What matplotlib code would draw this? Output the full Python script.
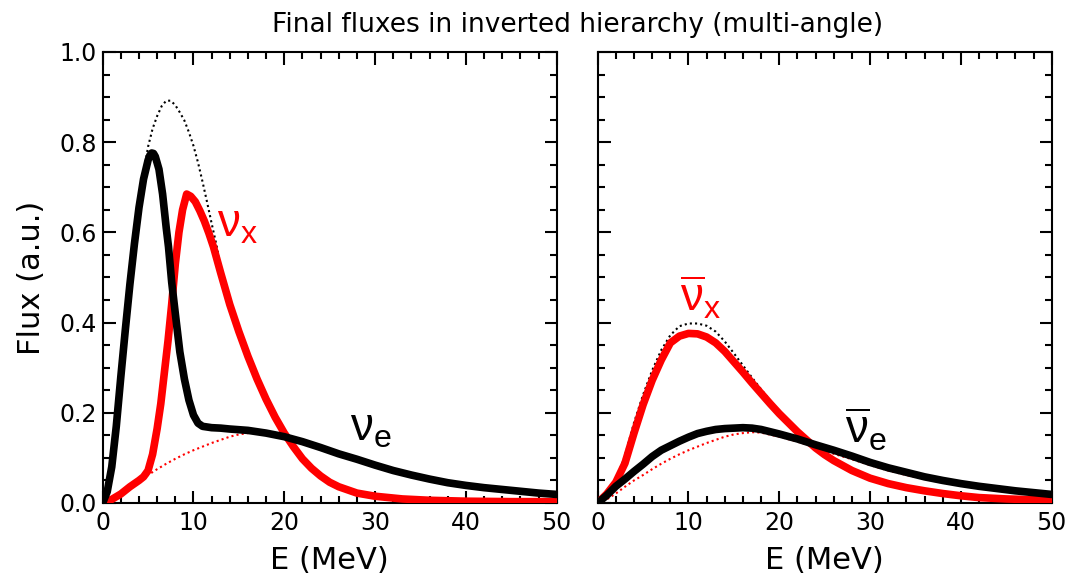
import numpy as np
import matplotlib
matplotlib.use('Agg')
import matplotlib.pyplot as plt
from matplotlib.ticker import MultipleLocator, FormatStrFormatter

# left panel: neutrinos (E in MeV, flux in a.u.)
e_nue = [0, 0.5, 1, 1.5, 2, 2.5, 3, 3.5, 4, 4.5, 5, 5.2, 5.4, 5.6, 5.8, 6.2, 6.6, 7, 7.25, 7.6,
         8, 8.5, 9, 9.5, 10, 10.5, 11, 12, 13, 14, 16, 18, 20, 22, 24, 26, 28, 30, 32, 34, 36,
         38, 40, 42, 44, 46, 48, 50]
f_nue = [0, 0.025, 0.08, 0.17, 0.28, 0.385, 0.485, 0.575, 0.655, 0.718, 0.76, 0.771, 0.776,
         0.775, 0.768, 0.74, 0.685, 0.61, 0.568, 0.49, 0.42, 0.335, 0.275, 0.228, 0.195, 0.177,
         0.17, 0.167, 0.166, 0.164, 0.161, 0.155, 0.147, 0.136, 0.123, 0.109, 0.097, 0.084,
         0.072, 0.062, 0.053, 0.045, 0.039, 0.034, 0.030, 0.026, 0.022, 0.019]

e_nux = [0, 1, 2, 3, 4, 4.5, 5, 5.5, 6, 6.4, 6.8, 7.2, 7.6, 8, 8.4, 8.8, 9.25, 9.7, 10.2, 10.7,
         11.2, 11.7, 12.2, 13, 14, 15, 16, 17, 18, 19, 20, 21, 22, 23, 24, 25, 26, 28, 30, 33,
         36, 40, 45, 50]
f_nux = [0, 0.008, 0.02, 0.036, 0.05, 0.058, 0.072, 0.108, 0.165, 0.22, 0.29, 0.36, 0.44, 0.53,
         0.60, 0.65, 0.685, 0.68, 0.668, 0.648, 0.625, 0.598, 0.568, 0.51, 0.44, 0.38, 0.325,
         0.275, 0.23, 0.19, 0.155, 0.125, 0.098, 0.077, 0.060, 0.046, 0.036, 0.022, 0.015, 0.009,
         0.006, 0.004, 0.003, 0.003]

# initial spectra (dotted)
e_nue0 = [0, 1, 2, 3, 4, 4.5, 5, 5.5, 6, 6.5, 7, 7.5, 8, 8.5, 9, 9.5, 10, 10.5, 11, 11.5, 12,
          12.5, 13, 14, 15, 16, 17, 18, 19, 20, 22, 24, 26, 28, 30, 35, 40, 50]
f_nue0 = [0, 0.08, 0.28, 0.485, 0.655, 0.73, 0.79, 0.83, 0.858, 0.88, 0.892, 0.892, 0.882, 0.866,
          0.848, 0.822, 0.792, 0.755, 0.712, 0.667, 0.62, 0.575, 0.525, 0.445, 0.385, 0.33, 0.28,
          0.235, 0.195, 0.16, 0.10, 0.062, 0.038, 0.024, 0.016, 0.007, 0.004, 0.002]

e_nux0 = [0, 1, 2, 3, 4, 5, 6, 7, 8, 9, 10, 11, 12, 13, 14, 15, 16, 17, 18, 20, 22, 24, 26, 28,
          30, 32, 34, 36, 38, 40, 42, 44, 46, 48, 50]
f_nux0 = [0, 0.008, 0.021, 0.036, 0.05, 0.062, 0.075, 0.087, 0.098, 0.108, 0.117, 0.125, 0.133,
          0.140, 0.147, 0.152, 0.155, 0.157, 0.156, 0.147, 0.136, 0.123, 0.109, 0.097, 0.084,
          0.072, 0.062, 0.053, 0.045, 0.039, 0.034, 0.030, 0.026, 0.022, 0.019]

# right panel: antineutrinos
e_anue = [0, 1, 2, 3, 4, 5, 6, 7, 8, 9, 10, 11, 12, 13, 14, 15, 16, 17, 18, 19, 20, 22, 24, 26,
          28, 30, 32, 34, 36, 38, 40, 42, 44, 46, 48, 50]
f_anue = [0, 0.017, 0.037, 0.053, 0.07, 0.086, 0.103, 0.117, 0.127, 0.137, 0.146, 0.154, 0.159,
          0.163, 0.165, 0.166, 0.167, 0.166, 0.163, 0.158, 0.153, 0.142, 0.129, 0.117, 0.104,
          0.090, 0.078, 0.068, 0.058, 0.050, 0.043, 0.037, 0.032, 0.027, 0.023, 0.019]

e_anux = [0, 1, 2, 3, 4, 5, 6, 7, 8, 9, 10, 11, 12, 13, 14, 15, 16, 17, 18, 19, 20, 21, 22, 23,
          24, 25, 26, 28, 30, 32, 34, 36, 38, 40, 42, 45, 50]
f_anux = [0, 0.02, 0.046, 0.088, 0.155, 0.218, 0.272, 0.317, 0.355, 0.37, 0.376, 0.375, 0.368,
          0.355, 0.336, 0.313, 0.29, 0.266, 0.243, 0.22, 0.198, 0.178, 0.158, 0.14, 0.122, 0.107,
          0.094, 0.072, 0.055, 0.043, 0.034, 0.027, 0.021, 0.016, 0.012, 0.009, 0.006]

e_anue0 = [0, 1, 2, 3, 4, 5, 6, 7, 8, 9, 10, 11, 12, 13, 14, 15, 16, 17, 18, 19, 20, 21, 22, 23,
           24, 25, 26, 28, 30, 35, 40, 50]
f_anue0 = [0, 0.02, 0.05, 0.105, 0.178, 0.24, 0.294, 0.339, 0.372, 0.392, 0.398, 0.398, 0.393,
           0.38, 0.358, 0.332, 0.305, 0.278, 0.252, 0.227, 0.203, 0.18, 0.16, 0.141, 0.124, 0.108,
           0.095, 0.073, 0.056, 0.027, 0.016, 0.006]

plt.rcParams['font.family'] = ['DejaVu Sans']
plt.rcParams['mathtext.fontset'] = 'custom'
plt.rcParams['mathtext.rm'] = 'Liberation Sans'

fig = plt.figure(figsize=(10.65, 5.84), dpi=100)
ax1 = fig.add_axes([0.0964, 0.1387, 0.4263, 0.7723])
ax2 = fig.add_axes([0.5612, 0.1387, 0.4263, 0.7723])

RED = '#ff0000'
lw = 5.5
dots = (0, (1, 1.5))

ax1.plot(e_nue0, f_nue0, color='black', ls=dots, lw=1.5, zorder=2)
ax1.plot(e_nux0, f_nux0, color=RED, ls=dots, lw=1.5, zorder=2)
ax1.plot(e_nux, f_nux, color=RED, lw=lw, solid_capstyle='round', solid_joinstyle='round', zorder=3)
ax1.plot(e_nue, f_nue, color='black', lw=lw, solid_capstyle='round', solid_joinstyle='round', zorder=4)

ax2.plot(e_anue0, f_anue0, color='black', ls=dots, lw=1.5, zorder=2)
ax2.plot(e_nux0, f_nux0, color=RED, ls=dots, lw=1.5, zorder=2)
ax2.plot(e_anux, f_anux, color=RED, lw=lw, solid_capstyle='round', solid_joinstyle='round', zorder=3)
ax2.plot(e_anue, f_anue, color='black', lw=lw, solid_capstyle='round', solid_joinstyle='round', zorder=4)

for ax in (ax1, ax2):
    ax.set_xlim(0, 50)
    ax.set_ylim(0, 1.0)
    ax.xaxis.set_major_locator(MultipleLocator(10))
    ax.xaxis.set_minor_locator(MultipleLocator(2))
    ax.yaxis.set_major_locator(MultipleLocator(0.2))
    ax.yaxis.set_minor_locator(MultipleLocator(0.05))
    ax.tick_params(which='both', direction='in', top=True, right=True, width=1.5,
                   labelsize=17)
    ax.tick_params(which='major', length=9)
    ax.tick_params(which='minor', length=5)
    ax.tick_params(axis='y', pad=4)
    ax.tick_params(axis='x', pad=6)
    for s in ax.spines.values():
        s.set_linewidth(1.5)
    ax.set_xlabel('E (MeV)', fontsize=22, labelpad=8)

ax1.yaxis.set_major_formatter(FormatStrFormatter('%.1f'))
ax1.set_ylabel('Flux (a.u.)', fontsize=22, labelpad=10)
ax2.tick_params(labelleft=False)

ax1.text(12.6, 0.59, r'$\mathrm{\nu_x}$', color=RED, fontsize=33)
ax1.text(27.2, 0.138, r'$\mathrm{\nu_e}$', color='black', fontsize=33)
ax2.text(9.1, 0.425, r'$\mathrm{\overline{\nu}_x}$', color=RED, fontsize=33)
ax2.text(27.2, 0.133, r'$\mathrm{\overline{\nu}_e}$', color='black', fontsize=33)

fig.text(0.542, 0.957, 'Final fluxes in inverted hierarchy (multi-angle)', ha='center',
         va='center', fontsize=19)

fig.savefig('out.png', dpi=100)
